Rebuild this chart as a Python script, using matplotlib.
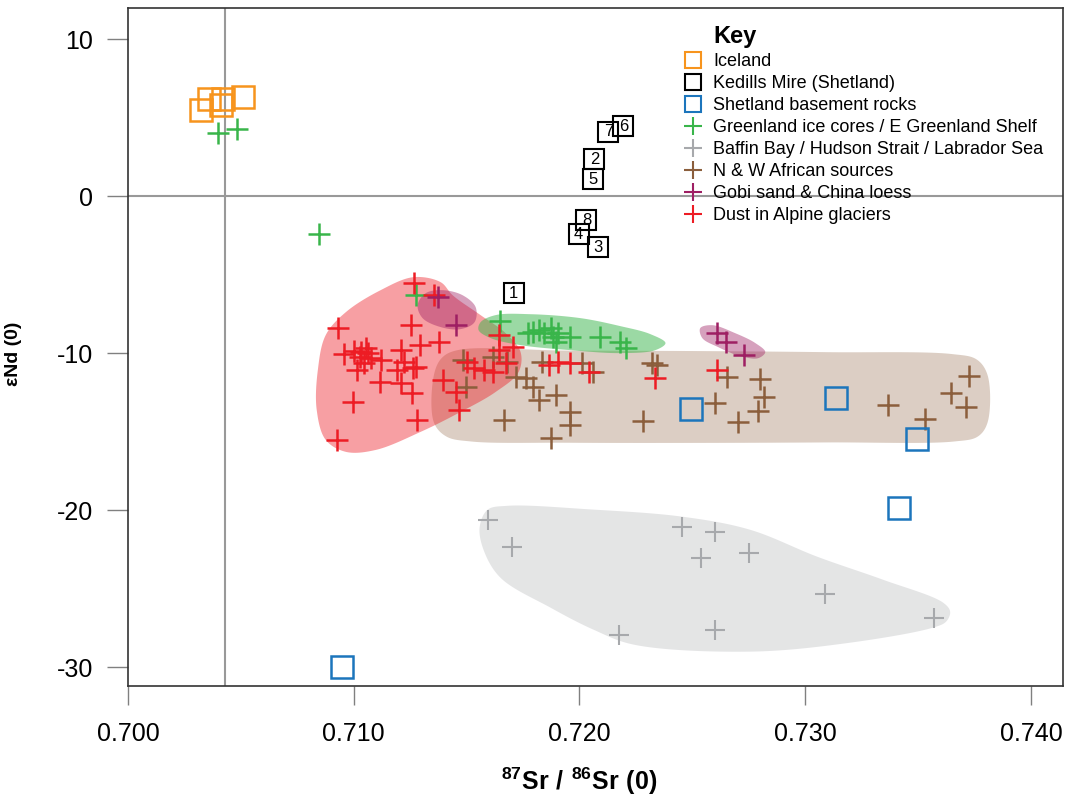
import numpy as np
import matplotlib
matplotlib.use("Agg")
from matplotlib import pyplot as plt
from matplotlib.lines import Line2D

plt.rcParams['font.family'] = ['Liberation Sans', 'DejaVu Sans']
plt.rcParams['mathtext.fontset'] = 'custom'
plt.rcParams['mathtext.rm'] = 'Liberation Sans'
plt.rcParams['mathtext.bf'] = 'Liberation Sans:bold'
plt.rcParams['axes.unicode_minus'] = False

# ---- data (87Sr/86Sr, eNd) ----
iceland_x = [0.70323, 0.70358, 0.70412, 0.70420, 0.70509]
iceland_y = [5.53, 6.23, 5.79, 6.17, 6.30]

kedills_x = [0.71708, 0.72066, 0.72080, 0.71996, 0.72058, 0.72195, 0.72128, 0.72031]
kedills_y = [-6.17, 2.35, -3.24, -2.42, 1.08, 4.45, 4.13, -1.53]
kedills_labels = ['1', '2', '3', '4', '5', '6', '7', '8']

basement_x = [0.70947, 0.72496, 0.73137, 0.73496, 0.73416]
basement_y = [-29.96, -13.55, -12.85, -15.46, -19.85]

greenland_x = [0.70398, 0.70482, 0.70845, 0.71274, 0.71650, 0.71774, 0.71796, 0.71819,
               0.71841, 0.71872, 0.71881, 0.71903, 0.71894, 0.71960, 0.72093, 0.72181, 0.72204]
greenland_y = [4.01, 4.26, -2.42, -6.30, -7.95, -8.72, -8.65, -8.52,
               -8.72, -8.40, -8.97, -8.72, -9.29, -8.97, -8.97, -9.29, -9.67]

baffin_x = [0.71593, 0.71699, 0.72456, 0.72602, 0.72540, 0.72752, 0.73088, 0.73571, 0.72177, 0.72602]
baffin_y = [-20.61, -22.33, -21.06, -21.37, -23.03, -22.71, -25.32, -26.84, -27.93, -27.61]

africa_x = [0.71482, 0.71496, 0.71619, 0.71681, 0.71717, 0.71761, 0.71792, 0.71819, 0.71836, 0.71894,
            0.71960, 0.71960, 0.71872, 0.71664, 0.72013, 0.72058, 0.72283, 0.72323, 0.72345, 0.72655,
            0.72602, 0.72704, 0.72801, 0.72819, 0.72792, 0.73367, 0.73531, 0.73726, 0.73646, 0.73712]
africa_y = [-10.43, -12.15, -10.24, -10.56, -11.51, -11.58, -12.15, -12.98, -10.56, -12.66,
            -13.74, -14.57, -15.39, -14.25, -10.62, -11.20, -14.31, -10.62, -10.75, -11.51,
            -13.17, -14.38, -11.64, -12.79, -13.68, -13.30, -14.19, -11.45, -12.53, -13.42]

gobi_x = [0.71372, 0.71451, 0.72611, 0.72650, 0.72730]
gobi_y = [-6.42, -8.21, -8.72, -9.29, -10.11]

alpine_x = [0.71265, 0.71354, 0.70929, 0.71252, 0.71376, 0.71292, 0.71208, 0.70956, 0.71000, 0.71031,
            0.71053, 0.71062, 0.71027, 0.71075, 0.71044, 0.71119, 0.71013, 0.71115, 0.71190, 0.71221,
            0.71261, 0.71274, 0.71208, 0.71257, 0.70996, 0.71279, 0.70925, 0.71394, 0.71451, 0.71465,
            0.71500, 0.71531, 0.71642, 0.71704, 0.71642, 0.71575, 0.71615, 0.71673, 0.71863, 0.71903,
            0.71960, 0.72040, 0.72336, 0.72611]
alpine_y = [-5.53, -6.30, -8.40, -8.21, -9.29, -9.48, -9.80, -10.05, -9.86, -9.92,
            -9.67, -9.99, -10.24, -10.31, -10.62, -10.43, -11.07, -11.83, -11.07, -10.56,
            -10.94, -10.88, -11.90, -12.53, -13.10, -14.25, -15.52, -11.70, -12.47, -13.61,
            -10.56, -10.94, -8.84, -9.61, -9.80, -11.07, -11.20, -10.62, -10.75, -10.56,
            -10.62, -11.20, -11.58, -11.07]

# field outlines (control points, closed)
red_field_x = [0.71265, 0.71385, 0.71438, 0.71562, 0.71673, 0.71739, 0.71730, 0.71628, 0.71473,
               0.71296, 0.71097, 0.70965, 0.70876, 0.70836, 0.70841, 0.70876, 0.70965, 0.71119]
red_field_y = [-5.15, -5.47, -6.30, -7.57, -8.72, -9.92, -11.20, -12.47, -13.74,
               -15.01, -16.16, -16.28, -15.52, -13.61, -11.07, -8.84, -7.38, -5.98]

brown_field_x = [0.71460, 0.71950, 0.72535, 0.73100, 0.73650, 0.73760, 0.73808, 0.73808, 0.73765,
                 0.73660, 0.73100, 0.72535, 0.71950, 0.71520, 0.71410, 0.71355, 0.71355, 0.71390]
brown_field_y = [-9.80, -9.83, -9.86, -9.93, -10.05, -10.40, -11.40, -14.40, -15.30,
                 -15.62, -15.68, -15.71, -15.70, -15.62, -15.30, -14.40, -11.40, -10.30]

green_field_x = [0.71562, 0.71628, 0.71783, 0.72004, 0.72181, 0.72314, 0.72381, 0.72336,
                 0.72181, 0.71960, 0.71739, 0.71606, 0.71553]
green_field_y = [-8.02, -7.57, -7.51, -7.76, -8.27, -8.78, -9.35, -9.80,
                 -9.99, -9.80, -9.48, -9.03, -8.52]

gobi_field1_x = [0.71283, 0.71319, 0.71394, 0.71482, 0.71540, 0.71535, 0.71473, 0.71385, 0.71305]
gobi_field1_y = [-6.93, -6.17, -5.98, -6.30, -7.06, -8.02, -8.46, -8.33, -7.76]

gobi_field2_x = [0.72535, 0.72588, 0.72690, 0.72779, 0.72823, 0.72792, 0.72712, 0.72615, 0.72544]
gobi_field2_y = [-8.40, -8.21, -8.72, -9.35, -9.92, -10.31, -10.18, -9.61, -9.03]

grey_field_x = [0.71593, 0.71680, 0.72050, 0.72460, 0.72757, 0.73053, 0.73345, 0.73611, 0.73642,
                0.73624, 0.73566, 0.73199, 0.72757, 0.72239, 0.72062, 0.71872, 0.71650, 0.71575,
                0.71558]
grey_field_y = [-19.97, -19.72, -19.95, -20.42, -21.25, -22.96, -24.43, -25.89, -26.46,
                -27.10, -27.48, -28.44, -29.01, -28.56, -27.61, -26.21, -24.30, -22.52,
                -21.06]

bulk_earth_x = 0.7043

C_ICE = '#F7941D'
C_BASE = '#1C75BC'
C_GREEN = '#39B54A'
C_GREY = '#A7A9AC'
C_BROWN = '#8B5E3C'
C_PURPLE = '#9E1F63'
C_RED = '#ED1C24'


def smooth_closed(xs, ys, n=24, alpha=0.5):
    # closed centripetal Catmull-Rom curve through the control points
    sx, sy = 22600.0, 15.72  # roughly screen-isotropic scaling
    pts = np.column_stack([np.asarray(xs) * sx, np.asarray(ys) * sy])
    m = len(pts)
    out = []
    for i in range(m):
        p0, p1, p2, p3 = pts[(i - 1) % m], pts[i], pts[(i + 1) % m], pts[(i + 2) % m]
        t0 = 0.0
        t1 = t0 + np.linalg.norm(p1 - p0) ** alpha
        t2 = t1 + np.linalg.norm(p2 - p1) ** alpha
        t3 = t2 + np.linalg.norm(p3 - p2) ** alpha
        t = np.linspace(t1, t2, n, endpoint=False)[:, None]
        a1 = (t1 - t) / (t1 - t0) * p0 + (t - t0) / (t1 - t0) * p1
        a2 = (t2 - t) / (t2 - t1) * p1 + (t - t1) / (t2 - t1) * p2
        a3 = (t3 - t) / (t3 - t2) * p2 + (t - t2) / (t3 - t2) * p3
        b1 = (t2 - t) / (t2 - t0) * a1 + (t - t0) / (t2 - t0) * a2
        b2 = (t3 - t) / (t3 - t1) * a2 + (t - t1) / (t3 - t1) * a3
        out.append((t2 - t) / (t2 - t1) * b1 + (t - t1) / (t2 - t1) * b2)
    out = np.vstack(out)
    return out[:, 0] / sx, out[:, 1] / sy


fig = plt.figure(figsize=(10.73, 8.02), dpi=100)
ax = fig.add_axes([128 / 1073, 1 - 686 / 802, 935 / 1073, 678 / 802])

# 1. fields
fields = [(grey_field_x, grey_field_y, C_GREY, 0.3),
          (brown_field_x, brown_field_y, C_BROWN, 0.3),
          (red_field_x, red_field_y, C_RED, 0.42),
          (green_field_x, green_field_y, C_GREEN, 0.5),
          (gobi_field1_x, gobi_field1_y, C_PURPLE, 0.42),
          (gobi_field2_x, gobi_field2_y, C_PURPLE, 0.42)]
for fx, fy, col, a in fields:
    px, py = smooth_closed(fx, fy)
    ax.fill(px, py, color=col, alpha=a, lw=0, zorder=1)

# 2. reference lines
ax.axhline(0, color='#999999', lw=1.5, zorder=0.5)
ax.axvline(bulk_earth_x, color='#999999', lw=1.5, zorder=0.5)

# 3. samples
ms_cross = 16
ax.plot(baffin_x, baffin_y, '+', color=C_GREY, ms=15, mew=1.5, zorder=3)
ax.plot(africa_x, africa_y, '+', color=C_BROWN, ms=ms_cross, mew=1.8, zorder=3)
ax.plot(greenland_x, greenland_y, '+', color=C_GREEN, ms=ms_cross, mew=1.8, zorder=3)
ax.plot(alpine_x, alpine_y, '+', color=C_RED, ms=ms_cross, mew=1.8, zorder=3)
ax.plot(gobi_x, gobi_y, '+', color=C_PURPLE, ms=ms_cross, mew=1.8, zorder=3)
ax.plot(iceland_x, iceland_y, 's', mfc='none', mec=C_ICE, ms=16, mew=1.8, zorder=4)
ax.plot(basement_x, basement_y, 's', mfc='none', mec=C_BASE, ms=16, mew=1.8, zorder=4)
ax.plot(kedills_x, kedills_y, 's', mfc='none', mec='black', ms=15, mew=1.5, zorder=4)
for kx, ky, lab in zip(kedills_x, kedills_y, kedills_labels):
    ax.text(kx, ky, lab, ha='center', va='center', fontsize=12, zorder=5)

# 4. axes
ax.set_xlim(0.70004, 0.74142)
ax.set_ylim(-31.2, 12.0)
ax.set_xticks([0.700, 0.710, 0.720, 0.730, 0.740])
ax.set_xticklabels(['0.700', '0.710', '0.720', '0.730', '0.740'])
ax.set_yticks([10, 0, -10, -20, -30])
ax.tick_params(axis='both', labelsize=18, color='#808080', width=1)
ax.tick_params(axis='x', length=14, pad=12)
ax.tick_params(axis='y', length=15, pad=10)
for s in ax.spines.values():
    s.set_color('#333333')
    s.set_linewidth(1.2)

ax.set_xlabel(r'$\mathbf{^{87}Sr\ /\ ^{86}Sr\ (0)}$', fontsize=18)
ax.xaxis.set_label_coords(0.483, -0.118)
ax.set_ylabel('εNd (0)', fontsize=14, fontweight='bold')
ax.yaxis.set_label_coords(-0.113, 0.49)

# 5. key
handles = [
    Line2D([], [], ls='none', marker='s', mfc='none', mec=C_ICE, ms=12, mew=1.5),
    Line2D([], [], ls='none', marker='s', mfc='none', mec='black', ms=12, mew=1.5),
    Line2D([], [], ls='none', marker='s', mfc='none', mec=C_BASE, ms=12, mew=1.5),
    Line2D([], [], ls='none', marker='+', color=C_GREEN, ms=13, mew=1.5),
    Line2D([], [], ls='none', marker='+', color=C_GREY, ms=13, mew=1.5),
    Line2D([], [], ls='none', marker='+', color=C_BROWN, ms=13, mew=1.5),
    Line2D([], [], ls='none', marker='+', color=C_PURPLE, ms=13, mew=1.5),
    Line2D([], [], ls='none', marker='+', color=C_RED, ms=13, mew=1.5),
]
labels = ['Iceland', 'Kedills Mire (Shetland)', 'Shetland basement rocks',
          'Greenland ice cores / E Greenland Shelf', 'Baffin Bay / Hudson Strait / Labrador Sea',
          'N & W African sources', 'Gobi sand & China loess', 'Dust in Alpine glaciers']
fig.legend(handles, labels, loc='upper left', bbox_to_anchor=(684 / 1073, 1 - 53 / 802),
           frameon=False, fontsize=13, handlelength=1.0, handletextpad=0.6,
           labelspacing=0.28, borderpad=0, borderaxespad=0)
fig.text(713 / 1073, 1 - 37 / 802, 'Key', fontsize=17, fontweight='bold', ha='left', va='center')

fig.savefig('out.png', dpi=100)
